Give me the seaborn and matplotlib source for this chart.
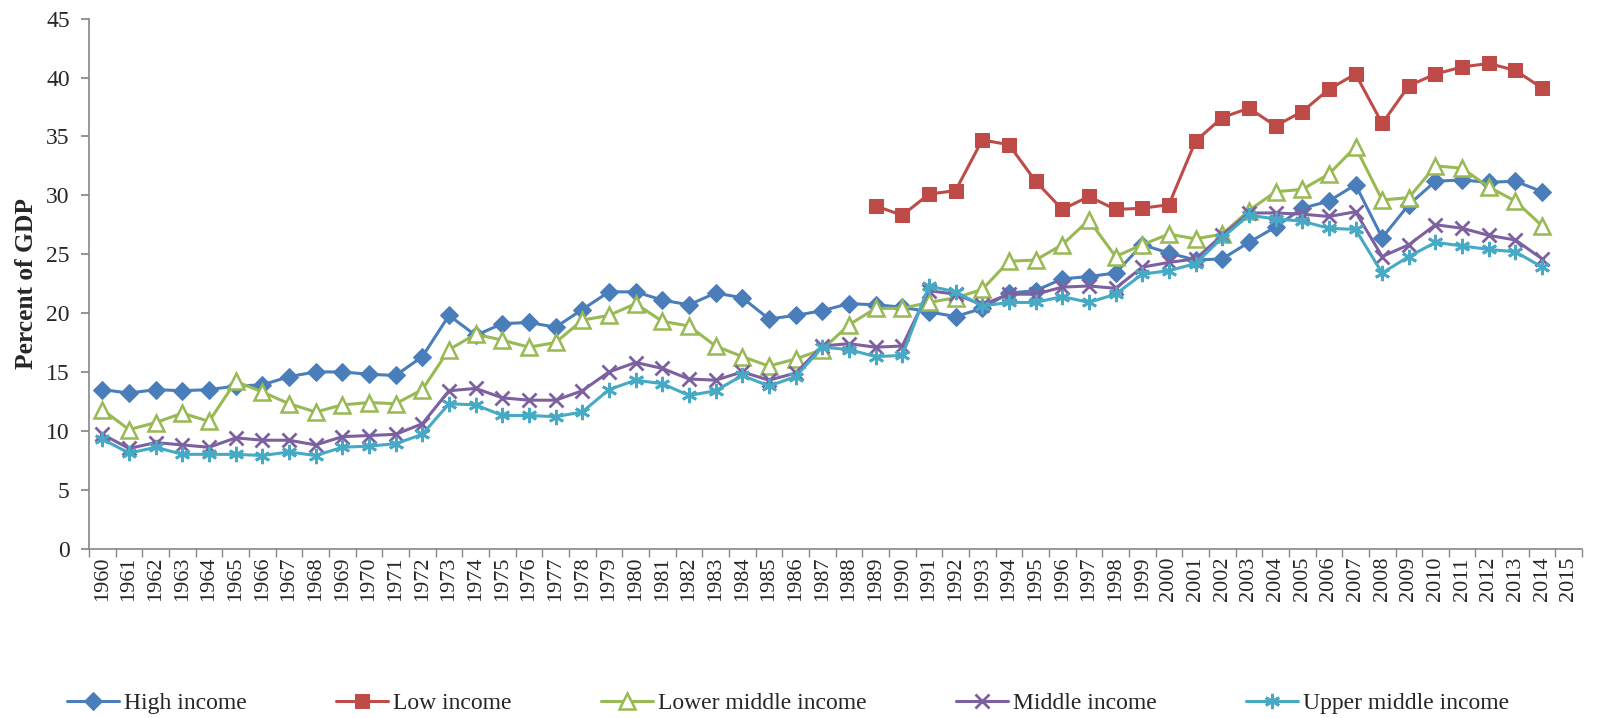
import matplotlib
matplotlib.use("Agg")
import numpy as np
import matplotlib.pyplot as plt
import seaborn as sns

years = [str(y) for y in range(1960, 2016)]

high_income = [13.5, 13.2, 13.5, 13.4, 13.5, 13.8, 13.9, 14.6, 15.0, 15.0,
               14.8, 14.7, 16.3, 19.8, 18.1, 19.1, 19.2, 18.8, 20.3, 21.8,
               21.8, 21.1, 20.7, 21.7, 21.3, 19.5, 19.8, 20.2, 20.8, 20.7,
               20.5, 20.1, 19.7, 20.4, 21.7, 21.9, 22.9, 23.1, 23.4, 25.8,
               25.1, 24.5, 24.6, 26.0, 27.3, 28.9, 29.5, 30.9, 26.4, 29.2,
               31.2, 31.3, 31.1, 31.2, 30.3]
# low income only reported from 1989
low_income_start = 1989
low_income = [29.1, 28.3, 30.1, 30.4, 34.7, 34.3, 31.2, 28.8, 29.9, 28.8,
              28.9, 29.2, 34.6, 36.6, 37.4, 35.9, 37.1, 39.0, 40.3, 36.1,
              39.3, 40.3, 40.9, 41.2, 40.6, 39.1]
lower_middle = [11.8, 10.1, 10.7, 11.5, 10.8, 14.2, 13.3, 12.3, 11.6, 12.2,
                12.4, 12.3, 13.5, 16.9, 18.2, 17.7, 17.1, 17.5, 19.4, 19.8,
                20.8, 19.3, 18.9, 17.2, 16.3, 15.5, 16.1, 16.9, 19.0, 20.4,
                20.4, 20.9, 21.3, 22.0, 24.4, 24.5, 25.8, 27.9, 24.8, 25.8,
                26.7, 26.3, 26.7, 28.7, 30.3, 30.5, 31.8, 34.1, 29.6, 29.8,
                32.5, 32.3, 30.7, 29.5, 27.4]
middle_income = [9.7, 8.5, 9.0, 8.8, 8.6, 9.4, 9.2, 9.2, 8.8, 9.5,
                 9.6, 9.7, 10.6, 13.4, 13.6, 12.8, 12.6, 12.6, 13.4, 15.0,
                 15.8, 15.3, 14.4, 14.3, 15.0, 14.3, 14.9, 17.2, 17.4, 17.1,
                 17.2, 21.9, 21.6, 20.7, 21.6, 21.6, 22.2, 22.3, 22.1, 23.9,
                 24.3, 24.6, 26.6, 28.5, 28.5, 28.4, 28.2, 28.6, 24.8, 25.8,
                 27.5, 27.2, 26.6, 26.2, 24.6]
upper_middle = [9.3, 8.1, 8.6, 8.0, 8.0, 8.0, 7.9, 8.2, 7.9, 8.6,
                8.7, 8.9, 9.7, 12.3, 12.2, 11.3, 11.3, 11.2, 11.6, 13.5,
                14.3, 14.0, 13.0, 13.4, 14.7, 13.8, 14.6, 17.1, 16.9, 16.3,
                16.4, 22.3, 21.8, 20.6, 20.9, 20.9, 21.4, 20.9, 21.6, 23.3,
                23.6, 24.2, 26.4, 28.3, 28.0, 27.8, 27.2, 27.1, 23.4, 24.8,
                26.0, 25.7, 25.4, 25.2, 23.9]

sns.set_theme(style='white')
plt.rcParams['font.family'] = ['Liberation Serif', 'DejaVu Serif']

fig = plt.figure(figsize=(16.02, 7.18), dpi=100)
ax = fig.add_axes([0.0556, 0.236, 0.932, 0.738])

x_all = np.arange(len(high_income))
x_low = np.arange(len(low_income)) + (low_income_start - 1960)

series = [
    ('High income', x_all, high_income, '#4A7EBB', 'D', dict(markersize=9)),
    ('Low income', x_low, low_income, '#BE4B48', 's', dict(markersize=10)),
    ('Lower middle income', x_all, lower_middle, '#98B954', '^',
     dict(markersize=11, markerfacecolor='white', markeredgewidth=1.8)),
    ('Middle income', x_all, middle_income, '#7D60A0', 'x',
     dict(markersize=10, markeredgewidth=2)),
    ('Upper middle income', x_all, upper_middle, '#46AAC5', (6, 2, 0),
     dict(markersize=11, markeredgewidth=2)),
]

for name, xs, ys, col, mk, kw in series:
    sns.lineplot(x=xs, y=ys, ax=ax, color=col, marker=mk, label=name,
                 linewidth=2.2, markeredgecolor=col, **kw)

ax.set_xlim(-0.5, len(years) - 0.5)
ax.set_ylim(0, 45)
ax.set_yticks(range(0, 46, 5))
ax.set_xticks(np.arange(len(years)))
ax.set_xticklabels(years, rotation=90, fontsize=16)
ax.set_xticks(np.arange(len(years) + 1) - 0.5, minor=True)
ax.tick_params(axis='x', which='major', length=0, pad=6)
ax.tick_params(axis='x', which='minor', length=6, color='#868686', direction='out', bottom=True)
ax.tick_params(axis='y', length=6, color='#868686', direction='out', left=True,
               labelsize=17, pad=8)
for s in ['top', 'right']:
    ax.spines[s].set_visible(False)
for s in ['left', 'bottom']:
    ax.spines[s].set_color('#868686')
    ax.spines[s].set_linewidth(1.2)

ax.set_ylabel('Percent of GDP', fontsize=18.4, fontweight='bold', labelpad=6)

handles, labels = ax.get_legend_handles_labels()
ax.get_legend().remove()
fig.legend(handles, labels, loc='center', bbox_to_anchor=(0.492, 0.02),
           ncol=5, frameon=False, fontsize=17, handlelength=2.2,
           columnspacing=3.8, handletextpad=0.2)

fig.savefig('out.png', dpi=100)
